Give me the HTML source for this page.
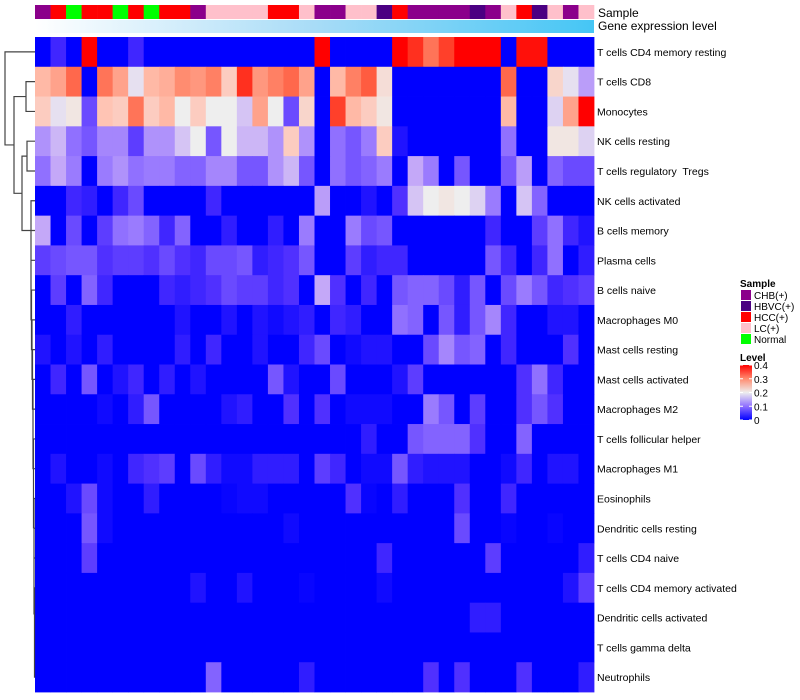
<!DOCTYPE html>
<html><head><meta charset="utf-8"><style>
body{margin:0;background:#fff;width:800px;height:700px;overflow:hidden;font-family:"Liberation Sans",sans-serif}
svg{display:block}
text{white-space:pre}
</style></head><body>
<svg id="chart" width="800" height="700" xmlns="http://www.w3.org/2000/svg">
<defs>
<linearGradient id="geneGrad" x1="0" x2="1" y1="0" y2="0"><stop offset="0" stop-color="#ffffff"/><stop offset="0.5" stop-color="#a8dcf7"/><stop offset="1" stop-color="#45c6f5"/></linearGradient>
<linearGradient id="levelGrad" x1="0" x2="0" y1="1" y2="0"><stop offset="0" stop-color="#0000ff"/><stop offset="0.25" stop-color="#9070ff"/><stop offset="0.5" stop-color="#eeeeee"/><stop offset="0.75" stop-color="#ff8c70"/><stop offset="1" stop-color="#ff0000"/></linearGradient>
</defs>
<g id="gAnno"></g><g id="gCells"></g><g id="gLabels"></g><g id="gDendro"></g><g id="gLegend"></g>
</svg>
<script>
const rowNames=["T cells CD4 memory resting","T cells CD8","Monocytes","NK cells resting","T cells regulatory  Tregs","NK cells activated","B cells memory","Plasma cells","B cells naive","Macrophages M0","Mast cells resting","Mast cells activated","Macrophages M2","T cells follicular helper","Macrophages M1","Eosinophils","Dendritic cells resting","T cells CD4 naive","T cells CD4 memory activated","Dendritic cells activated","T cells gamma delta","Neutrophils"];
const sampleGroups=["CHB","HCC","Normal","HCC","HCC","Normal","HCC","Normal","HCC","HCC","CHB","LC","LC","LC","LC","HCC","HCC","LC","CHB","CHB","LC","LC","HBVC","HCC","CHB","CHB","CHB","CHB","HBVC","CHB","LC","HCC","HBVC","LC","CHB","LC"];
const values=[
[0,.04,0,.4,0,0,.04,0,0,0,0,0,0,0,0,0,0,0,.4,0,0,0,0,.4,.37,.32,.36,.4,.4,.4,0,.39,.39,0,0,0],
[.26,.28,.33,0,.32,.28,.19,.26,.27,.30,.29,.31,.24,.37,.29,.31,.33,.28,0,.26,.31,.34,.22,0,0,0,0,0,0,0,.33,0,0,.23,.19,.14],
[.24,.19,.21,.07,.25,.24,.32,.24,.26,.2,.24,.2,.2,.17,.28,.2,.07,.23,0,.36,.26,.24,.21,0,0,0,0,0,0,0,.26,0,0,.18,.28,.4],
[.13,.16,.1,.08,.12,.12,.06,.13,.13,.17,.2,.08,.2,.16,.16,.13,.24,.13,0,.1,.08,.11,.24,.02,0,0,0,0,0,0,.1,0,0,.21,.21,.18],
[.1,.15,.11,0,.11,.13,.1,.11,.11,.09,.09,.12,.12,.08,.08,.13,.16,.08,0,.1,.08,.09,.11,0,.15,.11,0,.08,0,0,.08,.14,0,.09,.07,.07],
[0,0,.04,.03,0,.04,.07,0,0,0,0,.04,0,0,0,0,0,0,.14,0,0,.02,0,.05,.17,.2,.21,.2,.18,.11,0,.17,.09,0,0,0],
[.15,0,.07,0,.06,.1,.11,.09,.04,.09,0,0,.03,0,0,.03,0,.11,0,0,.11,.07,.08,0,0,0,0,0,0,.04,0,0,.06,.1,.04,.02],
[.06,.07,.08,.08,.05,.06,.06,.05,.07,.05,.04,.07,.07,.08,.03,.04,.05,.08,0,0,.06,.03,.04,.04,0,0,0,0,0,.08,.04,0,.04,.1,0,.03],
[0,.06,0,.09,.04,0,0,0,.04,.03,.04,.05,.07,.06,.06,.04,.05,0,.15,.05,0,.04,0,.08,.09,.09,.07,.03,.08,0,.07,.11,.08,.04,.05,.06],
[0,0,.03,0,0,0,0,0,0,.02,0,0,.02,0,.02,.01,.02,.03,0,.04,.03,0,0,.1,.09,0,.08,.03,.08,.12,.04,0,0,.02,.02,0],
[.02,0,.02,0,.03,0,0,0,0,.03,0,.04,0,0,.02,0,0,.04,.07,0,.01,.02,.02,0,0,.07,.12,.08,.09,0,.04,0,0,0,.05,0],
[0,.04,0,.08,0,.02,.04,0,.03,0,.02,0,0,0,0,.08,.02,0,0,.07,0,0,0,.02,.06,0,0,0,0,0,0,.05,.1,.04,0,0],
[0,0,0,0,.01,0,.03,.08,0,0,0,0,.02,.03,0,0,.05,0,.05,0,.01,.01,.01,0,0,.11,.08,0,.06,0,0,.05,.08,.05,0,0],
[0,0,0,0,0,0,0,0,0,0,0,0,0,0,0,0,0,0,0,0,0,.03,0,0,.08,.09,.09,.09,.05,0,0,.09,0,0,0,0],
[0,.02,0,0,.01,0,.04,.05,.06,0,.07,.03,.01,.01,.03,.03,.03,0,.06,.04,0,.01,.01,.08,.03,.02,.02,.02,0,0,.01,.04,0,.02,.02,0],
[0,0,.02,.07,.01,0,0,.03,0,0,0,0,.005,.01,.01,0,0,0,0,0,.05,.005,0,.03,0,0,0,.05,0,0,.04,0,0,0,0,0],
[0,0,0,.08,.01,0,0,0,0,0,0,0,0,0,0,0,.01,0,0,0,0,0,0,0,0,0,0,.07,0,0,.005,0,0,.005,0,0],
[0,0,0,.06,0,0,0,0,0,0,0,0,0,0,0,0,0,0,0,0,0,0,.04,0,0,0,0,0,0,.06,0,0,0,0,0,.03],
[0,0,0,0,0,0,0,0,0,0,.02,0,0,.02,0,0,0,.005,0,0,0,0,.01,0,0,0,0,0,0,0,0,0,0,0,.02,.06],
[0,0,0,0,0,0,0,0,0,0,0,0,0,0,0,0,0,0,0,0,0,0,0,0,0,0,0,0,.03,.03,0,0,0,0,0,0],
[0,0,0,0,0,0,0,0,0,0,0,0,0,0,0,0,0,0,0,0,0,0,0,0,0,0,0,0,0,0,0,0,0,0,0,0],
[0,0,0,0,0,0,0,0,0,0,0,.09,0,0,0,0,0,.03,0,0,0,0,0,0,0,.05,0,.05,0,0,0,.05,0,0,0,.03]];
const legendLabels=["CHB(+)","HBVC(+)","HCC(+)","LC(+)","Normal"];
const legendKeys=["CHB","HBVC","HCC","LC","Normal"];
const levelTicks=[0,0.1,0.2,0.3,0.4];

const groupColor={CHB:"#8b008b",HBVC:"#4b0082",HCC:"#ff0000",LC:"#ffc0cb",Normal:"#00ff00"};
const stops=[[0,[0,0,255]],[0.05,[80,48,255]],[0.1,[144,112,255]],[0.15,[196,168,248]],[0.2,[238,238,238]],[0.25,[255,196,180]],[0.3,[255,140,112]],[0.35,[255,80,52]],[0.4,[255,0,0]]];
function color(v){v=Math.max(0,Math.min(0.4,v));for(let i=0;i<stops.length-1;i++){const a=stops[i],b=stops[i+1];if(v<=b[0]){const t=(v-a[0])/(b[0]-a[0]);const c=a[1].map((x,k)=>Math.round(x+(b[1][k]-x)*t));return `rgb(${c[0]},${c[1]},${c[2]})`;}}return "rgb(255,0,0)";}
const NS="http://www.w3.org/2000/svg";
function el(tag,attrs,parent){const e=document.createElementNS(NS,tag);for(const k in attrs)e.setAttribute(k,attrs[k]);parent.appendChild(e);return e;}
const X0=35,X1=594,Y0=37,Y1=692;
const nC=sampleGroups.length,nR=rowNames.length;
const cw=(X1-X0)/nC,rh=(Y1-Y0)/nR;
const xPos=c=>X0+c*cw, yPos=r=>Y0+r*rh;
const gA=document.getElementById('gAnno'),gC=document.getElementById('gCells'),gL=document.getElementById('gLabels'),gD=document.getElementById('gDendro'),gG=document.getElementById('gLegend');
sampleGroups.forEach((g,c)=>{const r=el('rect',{x:xPos(c),y:5,width:cw+0.3,height:14,fill:groupColor[g]},gA);

});
const gb=el('rect',{x:X0,y:20,width:X1-X0,height:13,fill:'url(#geneGrad)'},gA);


let t=el('text',{x:598,y:17,'font-size':12,fill:'#000'},gA);t.textContent='Sample';


t=el('text',{x:598,y:30,'font-size':12,fill:'#000'},gA);t.textContent='Gene expression level';


values.forEach((row,r)=>row.forEach((v,c)=>{const e=el('rect',{x:xPos(c),y:yPos(r),width:cw+0.4,height:rh+0.4,fill:color(v)},gC);

}));
rowNames.forEach((n,r)=>{const e=el('text',{x:597,y:yPos(r)+rh/2+4,'font-size':10.5,fill:'#000','xml:space':'preserve'},gL);e.textContent=n;

});
const yc=r=>yPos(r)+rh/2;
const segs=[];
function link(xa,ya,xb,yb,xj){segs.push(`M${xa},${ya}H${xj}V${yb}H${xb}`);}
let chainX=[31,31.5,32,32.5,33,33,33.5,33.5,34,34,34,34.5,34.5,34.5,35];
let curY=yc(21),curX=35;
for(let r=20;r>=5;r--){const xj=chainX[Math.max(0,r-7)]||30;link(35,yc(r),curX,curY,xj);curY=(yc(r)+curY)/2;curX=xj;}
link(35,yc(3),35,yc(4),27);const c34=(yc(3)+yc(4))/2;
link(27,c34,curX,curY,22);const cA=(c34+curY)/2;
link(35,yc(1),35,yc(2),26);const c12=(yc(1)+yc(2))/2;
link(26,c12,22,cA,14);const cB=(c12+cA)/2;
link(35,yc(0),14,cB,5);
const p=el('path',{d:segs.join(' '),stroke:'#444',fill:'none','stroke-width':1.2},gD);


t=el('text',{x:740,y:287,'font-size':10,'font-weight':'bold'},gG);t.textContent='Sample';


legendKeys.forEach((k,i)=>{const y=290+i*11;
const s=el('rect',{x:741,y:y,width:10,height:10,fill:groupColor[k]},gG);


const tx=el('text',{x:754,y:y+9,'font-size':10},gG);tx.textContent=legendLabels[i];

});
t=el('text',{x:740,y:361,'font-size':10,'font-weight':'bold'},gG);t.textContent='Level';


const lb=el('rect',{x:740,y:365,width:12,height:55,fill:'url(#levelGrad)'},gG);


levelTicks.forEach(v=>{const y=420-v/0.4*55;
el('line',{x1:740,x2:743,y1:y,y2:y,stroke:'#fff'},gG);el('line',{x1:749,x2:752,y1:y,y2:y,stroke:'#fff'},gG);
const tx=el('text',{x:754,y:y+4,'font-size':10},gG);tx.textContent=String(v);

});
</script>
</body></html>
